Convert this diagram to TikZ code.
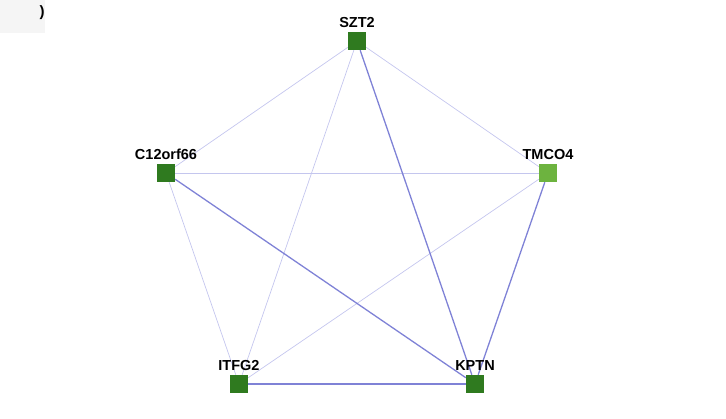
\documentclass[tikz,border=0pt]{standalone}
\usepackage{fontspec}
\setmainfont{Liberation Sans}
\definecolor{dg}{HTML}{2F7A1F}
\definecolor{lg}{HTML}{6DB33F}
\definecolor{strong}{HTML}{7F82D6}
\definecolor{weak}{HTML}{C4C6EE}
\begin{document}
\begin{tikzpicture}[x=1pt,y=-1pt,
  gene/.style={rectangle,minimum size=18pt,inner sep=0pt,fill=dg},
  lab/.style={font=\bfseries\fontsize{14.5}{16}\selectfont,above=1pt},
  weakedge/.style={draw=weak,line width=0.7pt},
  strongedge/.style={draw=strong,line width=1.3pt}]
\useasboundingbox (0,0) rectangle (726,419);
\fill[gray!8] (0,0) rectangle (45,33);
\node[font=\bfseries\fontsize{15}{16}\selectfont] (paren) at (42,13) {)};
\node[gene] (szt) at (357,41) {};
\node[gene] (c12) at (166,173) {};
\node[gene,fill=lg] (tm) at (548,173) {};
\node[gene] (it) at (239,384) {};
\node[gene] (kp) at (475,384) {};
\draw[weakedge] (szt) -- (c12);
\draw[weakedge] (szt) -- (tm);
\draw[weakedge] (szt) -- (it);
\draw[weakedge] (c12) -- (tm);
\draw[weakedge] (c12) -- (it);
\draw[weakedge] (tm) -- (it);
\draw[strongedge] (szt) -- (kp);
\draw[strongedge] (c12) -- (kp);
\draw[strongedge] (tm) -- (kp);
\draw[strongedge] (it) -- (kp);
\node[gene] at (357,41) {};
\node[gene] at (166,173) {};
\node[gene,fill=lg] at (548,173) {};
\node[gene] at (239,384) {};
\node[gene] at (475,384) {};
\node[lab] (lszt) at (szt.north) {SZT2};
\node[lab] (lc12) at (c12.north) {C12orf66};
\node[lab] (ltm) at (tm.north) {TMCO4};
\node[lab] (lit) at (it.north) {ITFG2};
\node[lab] (lkp) at (kp.north) {KPTN};
\end{tikzpicture}
\end{document}
